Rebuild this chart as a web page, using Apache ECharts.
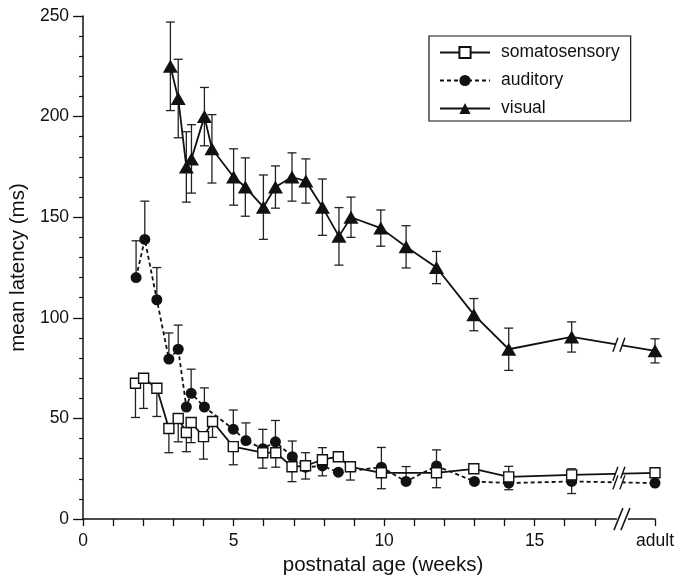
<!DOCTYPE html>
<html>
<head>
<meta charset="utf-8">
<script src="https://cdn.jsdelivr.net/npm/echarts@6/dist/echarts.min.js"></script>
<style>
  html, body { margin: 0; padding: 0; background: #fff; }
  #chart { width: 677px; height: 581px; }
</style>
</head>
<body>
<div id="chart"></div>
<script>
// Postnatal age in weeks; the adult group is placed at 19 beyond the axis break.
const ADULT = 19;
const BREAK_X = 17.8;

// Somatosensory (open squares)
const somaAge     = [1.74, 2.01, 2.45, 2.85, 3.16, 3.43, 3.59, 4.0, 4.3, 4.99, 5.97, 6.4, 6.94, 7.39, 7.95, 8.48, 8.88, 9.91, 11.74, 12.98, 14.14, 16.23, ADULT];
const somaLatency = [67.5, 70, 65, 45, 50, 43, 48, 41, 48.5, 36, 33, 33, 26, 26.5, 29.5, 31, 26, 23, 23, 25, 21, 22, 23];
const somaErrUp   = [0, 0, 0, 0, 0, 0, 0, 0, 0, 0, 0, 0, 0, 6.5, 6, 0, 0, 0, 0, 0, 5.2, 3, 0];
const somaErrDown = [17, 15, 14, 12, 11.6, 9.5, 10, 11.2, 7.9, 9, 7.7, 7.2, 7.4, 6.6, 8, 0, 6.6, 7.9, 7.4, 0, 0, 0, 0];

// Auditory (filled circles)
const audAge     = [1.76, 2.05, 2.45, 2.85, 3.16, 3.43, 3.59, 4.03, 4.99, 5.41, 5.97, 6.39, 6.95, 7.39, 7.95, 8.48, 9.91, 10.73, 11.74, 13.0, 14.14, 16.23, ADULT];
const audLatency = [120, 139, 109, 79.5, 84.4, 55.7, 62.5, 55.7, 44.7, 39, 35, 38.4, 31, 25.8, 26.4, 23.3, 25.8, 18.7, 26.4, 18.7, 17.9, 18.7, 17.9];
const audErrUp   = [18.3, 19, 16, 13, 12, 0, 12, 9.5, 9.5, 8.8, 9.6, 10.6, 7.8, 0, 0, 0, 9.8, 7.4, 8, 0, 0, 0, 0];
const audErrDown = [0, 0, 0, 0, 0, 0, 0, 0, 0, 0, 0, 0, 0, 0, 0, 0, 0, 0, 0, 0, 3.3, 6, 0];

// Visual (filled triangles), symmetric error bars
const visAge     = [2.9, 3.16, 3.43, 3.6, 4.03, 4.28, 5.0, 5.39, 5.99, 6.39, 6.94, 7.4, 7.95, 8.5, 8.9, 9.89, 10.73, 11.74, 12.98, 14.14, 16.23, ADULT];
const visLatency = [225, 209, 175, 179, 200, 184, 170, 165, 155, 165, 170, 168, 155, 140.5, 150, 144.6, 135.3, 125, 101.6, 84.4, 90.5, 83.6];
const visErr     = [22, 19.5, 17.5, 17, 14.5, 17, 14, 14.5, 16, 10.5, 12, 11, 14, 14.3, 10, 9, 10.5, 8, 8, 10.5, 7.5, 6];

// Axis ticks and labels
const xTickValues  = [0, 1, 2, 3, 4, 5, 6, 7, 8, 9, 10, 11, 12, 13, 14, 15, 16, 17, ADULT];
const xLabelValues = [0, 5, 10, 15, ADULT];
const yTicks = [0, 50, 100, 150, 200, 250];

const FONT = 'Liberation Sans, Arial, Helvetica, sans-serif';
const INK = '#111';

function zip(a, b) { return a.map((v, i) => [v, b[i]]); }
function errData(age, val, up, down) {
  return age.map((x, i) => [x, val[i], val[i] - down[i], val[i] + up[i]]);
}
// y of a series at the break position, on the segment leading to the adult point
function yAtBreak(age, val) {
  const n = age.length;
  const x0 = age[n - 2], x1 = age[n - 1], y0 = val[n - 2], y1 = val[n - 1];
  return y0 + (y1 - y0) * (BREAK_X - x0) / (x1 - x0);
}

function renderErrorBar(params, api) {
  const x = api.value(0), y = api.value(1), lo = api.value(2), hi = api.value(3);
  if (lo === y && hi === y) return null;
  const pTop = api.coord([x, hi]);
  const pBot = api.coord([x, lo]);
  const cap = 4.5;
  const style = { stroke: '#222', lineWidth: 1.3, fill: null };
  const children = [{ type: 'line', shape: { x1: pTop[0], y1: pTop[1], x2: pBot[0], y2: pBot[1] }, style }];
  if (hi > y) children.push({ type: 'line', shape: { x1: pTop[0] - cap, y1: pTop[1], x2: pTop[0] + cap, y2: pTop[1] }, style });
  if (lo < y) children.push({ type: 'line', shape: { x1: pBot[0] - cap, y1: pBot[1], x2: pBot[0] + cap, y2: pBot[1] }, style });
  return { type: 'group', children };
}

// "//" marks across a data line
function renderLineBreak(params, api) {
  const p = api.coord([api.value(0), api.value(1)]);
  const s = { stroke: INK, lineWidth: 1.4 };
  return {
    type: 'group',
    children: [
      { type: 'rect', shape: { x: p[0] - 3, y: p[1] - 4, width: 6, height: 8 }, style: { fill: '#fff' } },
      { type: 'line', shape: { x1: p[0] - 6, y1: p[1] + 7, x2: p[0] - 1, y2: p[1] - 7 }, style: s },
      { type: 'line', shape: { x1: p[0] + 1, y1: p[1] + 7, x2: p[0] + 6, y2: p[1] - 7 }, style: s }
    ]
  };
}

// "//" marks across the x axis line
function renderAxisBreak(params, api) {
  const p = api.coord([api.value(0), 0]);
  const s = { stroke: INK, lineWidth: 1.5 };
  return {
    type: 'group',
    children: [
      { type: 'rect', shape: { x: p[0] - 5, y: p[1] - 2, width: 11, height: 4 }, style: { fill: '#fff' } },
      { type: 'line', shape: { x1: p[0] - 8, y1: p[1] + 11, x2: p[0] + 1, y2: p[1] - 11 }, style: s },
      { type: 'line', shape: { x1: p[0] - 1, y1: p[1] + 11, x2: p[0] + 8, y2: p[1] - 11 }, style: s }
    ]
  };
}

const chart = echarts.init(document.getElementById('chart'), null, { renderer: 'canvas' });

chart.setOption({
  animation: false,
  backgroundColor: '#fff',
  textStyle: { fontFamily: FONT, color: INK },
  grid: { left: 80, right: 13, top: 16, bottom: 58, containLabel: false },
  legend: {
    left: 429,
    top: 36,
    orient: 'vertical',
    data: ['somatosensory', 'auditory', 'visual'],
    itemWidth: 50,
    itemHeight: 14,
    itemGap: 9,
    padding: [7, 11, 3, 10],
    borderColor: INK,
    borderWidth: 1.2,
    borderRadius: 0,
    textStyle: { fontFamily: FONT, fontSize: 17.5, color: INK, lineHeight: 19, padding: [0, 0, 0, 6] }
  },
  xAxis: {
    type: 'value',
    min: 0,
    max: ADULT,
    interval: 1,
    name: 'postnatal age (weeks)',
    nameLocation: 'middle',
    nameGap: 35,
    nameTextStyle: { fontFamily: FONT, fontSize: 20.5, color: INK, padding: [0, 0, 0, 28] },
    axisLine: { show: true, lineStyle: { color: INK, width: 1.5 } },
    axisTick: { show: true, length: 7, inside: false, customValues: xTickValues, lineStyle: { color: INK, width: 1.3 } },
    axisLabel: {
      customValues: xLabelValues,
      margin: 13,
      fontSize: 17.5,
      fontFamily: FONT,
      color: INK,
      formatter: v => (v === ADULT ? 'adult' : String(v))
    },
    splitLine: { show: false }
  },
  yAxis: {
    type: 'value',
    min: 0,
    max: 250,
    interval: 50,
    name: 'mean latency (ms)',
    nameLocation: 'middle',
    nameGap: 42,
    nameTextStyle: { fontFamily: FONT, fontSize: 20.5, color: INK },
    axisLine: { show: true, lineStyle: { color: INK, width: 1.5 } },
    axisTick: { show: true, length: 10, inside: false, customValues: yTicks, lineStyle: { color: INK, width: 1.3 } },
    minorTick: { show: true, splitNumber: 5, length: 4, lineStyle: { color: INK, width: 1.2 } },
    axisLabel: { margin: 14, fontSize: 17.5, fontFamily: FONT, color: INK },
    splitLine: { show: false },
    minorSplitLine: { show: false }
  },
  series: [
    // error bars (drawn under the markers)
    { type: 'custom', name: 'err-soma', silent: true, z: 1, clip: false, renderItem: renderErrorBar,
      encode: { x: 0, y: [1, 2, 3] }, data: errData(somaAge, somaLatency, somaErrUp, somaErrDown) },
    { type: 'custom', name: 'err-aud', silent: true, z: 1, clip: false, renderItem: renderErrorBar,
      encode: { x: 0, y: [1, 2, 3] }, data: errData(audAge, audLatency, audErrUp, audErrDown) },
    { type: 'custom', name: 'err-vis', silent: true, z: 1, clip: false, renderItem: renderErrorBar,
      encode: { x: 0, y: [1, 2, 3] }, data: errData(visAge, visLatency, visErr, visErr) },

    {
      type: 'line', name: 'auditory', z: 3,
      data: zip(audAge, audLatency),
      symbol: 'circle', symbolSize: 11,
      lineStyle: { color: INK, width: 1.8, type: [4, 3] },
      itemStyle: { color: INK, borderColor: INK, borderWidth: 0 }
    },
    {
      type: 'line', name: 'somatosensory', z: 4,
      data: zip(somaAge, somaLatency),
      symbol: 'rect', symbolSize: 10,
      lineStyle: { color: INK, width: 1.8, type: 'solid' },
      itemStyle: { color: '#fff', borderColor: INK, borderWidth: 1.4 }
    },
    {
      type: 'line', name: 'visual', z: 3,
      data: zip(visAge, visLatency),
      symbol: 'triangle', symbolSize: [15, 13],
      lineStyle: { color: INK, width: 1.8, type: 'solid' },
      itemStyle: { color: INK, borderColor: INK, borderWidth: 0 }
    },

    // break marks on the lines toward the adult values
    { type: 'custom', name: 'line-breaks', silent: true, z: 5, clip: false, renderItem: renderLineBreak,
      data: [
        [BREAK_X, yAtBreak(somaAge, somaLatency)],
        [BREAK_X, yAtBreak(audAge, audLatency)],
        [BREAK_X, yAtBreak(visAge, visLatency)]
      ] },
    // break on the x axis
    { type: 'custom', name: 'axis-break', silent: true, z: 6, clip: false, renderItem: renderAxisBreak,
      data: [[BREAK_X + 0.1, 0]] }
  ]
});
</script>
</body>
</html>
